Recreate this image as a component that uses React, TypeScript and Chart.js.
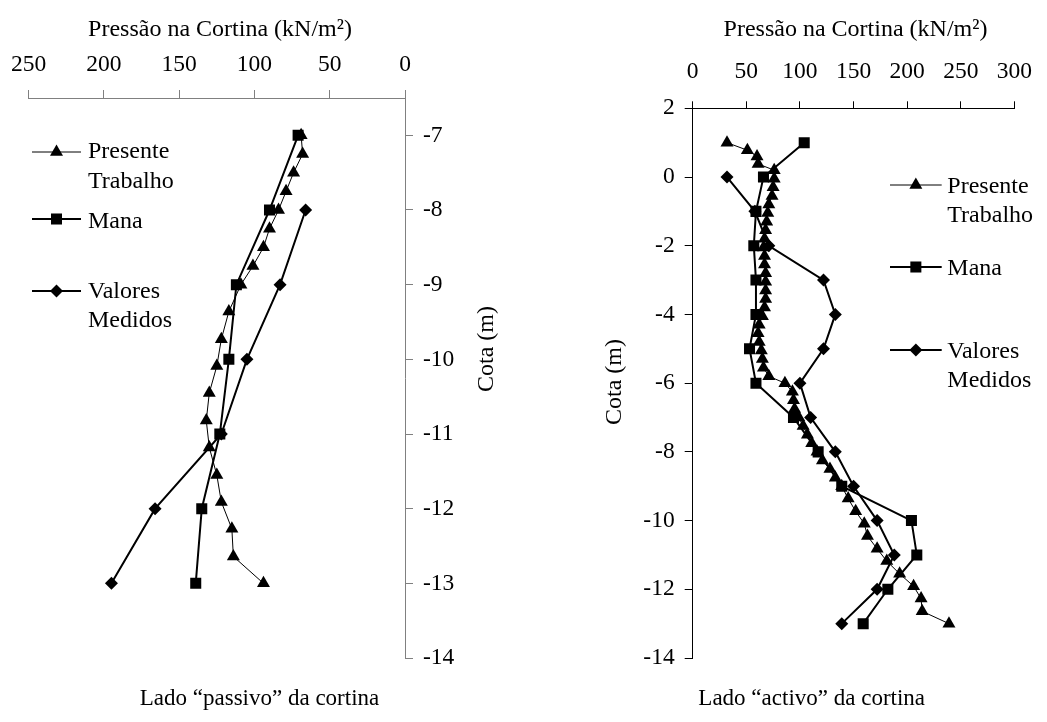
import React, { useEffect, useRef } from "react";
import { Chart, registerables } from "chart.js";

Chart.register(...registerables);

const FONT = "'Liberation Serif', 'Times New Roman', serif";

// ---------- Left chart: Lado "passivo" da cortina ----------
const passXTicks = [250, 200, 150, 100, 50, 0];
const passYTicks = [-14, -13, -12, -11, -10, -9, -8, -7];
const passCotaPT = [-7, -7.25, -7.5, -7.75, -8, -8.25, -8.5, -8.75, -9, -9.36, -9.73, -10.09, -10.45, -10.82, -11.18, -11.55, -11.91, -12.27, -12.64, -13];
const passPT = [69, 68, 74, 79, 84, 90, 94, 101, 109, 117, 122, 125, 130, 132, 130, 125, 122, 115, 114, 94];
const passCotaMana = [-7, -8, -9, -10, -11, -12, -13];
const passMana = [71, 90, 112, 117, 123, 135, 139];
const passCotaMed = [-8, -9, -10, -11, -12, -13];
const passMed = [66, 83, 105, 122, 166, 195];

// ---------- Right chart: Lado "activo" da cortina ----------
const actXTicks = [0, 50, 100, 150, 200, 250, 300];
const actYTicks = [-14, -12, -10, -8, -6, -4, -2, 0, 2];
const actCotaPT = [1, 0.78, 0.6, 0.38, 0.2, -0.05, -0.3, -0.55, -0.8, -1.05, -1.3, -1.55, -1.8, -2.05, -2.3, -2.55, -2.8, -3.05, -3.3, -3.55, -3.8, -4.05, -4.3, -4.55, -4.8, -5.05, -5.3, -5.55, -5.8, -6, -6.25, -6.5, -6.75, -7, -7.25, -7.5, -7.75, -8, -8.25, -8.5, -8.75, -9, -9.36, -9.73, -10.09, -10.45, -10.82, -11.18, -11.55, -11.91, -12.27, -12.64, -13];
const actPT = [32, 51, 60, 61, 76, 76, 75, 74, 71, 70, 69, 68, 67, 66, 67, 67, 68, 68, 68, 68, 67, 65, 62, 61, 62, 64, 65, 66, 71, 86, 93, 94, 95, 99, 103, 107, 111, 116, 121, 128, 133, 139, 145, 152, 160, 163, 172, 181, 193, 206, 213, 214, 239];
const actCotaMana = [1, 0, -1, -2, -3, -4, -5, -6, -7, -8, -9, -10, -11, -12, -13];
const actMana = [104, 66, 59, 57, 59, 59, 53, 59, 94, 117, 139, 204, 209, 182, 159];
const actCotaMed = [0, -1, -2, -3, -4, -5, -6, -7, -8, -9, -10, -11, -12, -13];
const actMed = [32, 58, 71, 122, 133, 122, 100, 110, 133, 150, 172, 188, 172, 139];

// ---------- Texts ----------
const xTitle = "Pressão na Cortina (kN/m²)";
const yTitle = "Cota (m)";
const passCaption = "Lado “passivo” da cortina";
const actCaption = "Lado “activo” da cortina";
const seriesNames = [["Presente", "Trabalho"], ["Mana"], ["Valores", "Medidos"]];
const markerStyles = ["triangle", "rect", "rectRot"];
const markerRadii = [7.5, 7.8, 6.5];
const lineWidths = [1, 2, 2];

function pts(xs: number[], ys: number[]) {
  return xs.map((v, i) => ({ x: v, y: ys[i] }));
}

function drawMarker(ctx: CanvasRenderingContext2D, style: string, x: number, y: number, r: number) {
  ctx.beginPath();
  if (style === "triangle") {
    ctx.moveTo(x, y - r);
    ctx.lineTo(x + Math.sin((2 * Math.PI) / 3) * r, y + 0.5 * r);
    ctx.lineTo(x - Math.sin((2 * Math.PI) / 3) * r, y + 0.5 * r);
  } else if (style === "rect") {
    const s = Math.SQRT1_2 * r;
    ctx.rect(x - s, y - s, 2 * s, 2 * s);
  } else {
    ctx.moveTo(x - r, y);
    ctx.lineTo(x, y - r);
    ctx.lineTo(x + r, y);
    ctx.lineTo(x, y + r);
  }
  ctx.closePath();
  ctx.fill();
}

type Txt = { text: string; x: number; y: number; size: number; rot?: boolean; align?: CanvasTextAlign };
type Leg = { x0: number; x1: number; ly: number; tx: number; bases: number[] };

function overlayPlugin(texts: Txt[], legend: Leg[]) {
  return {
    id: "overlay",
    afterDraw(chart: any) {
      const ctx: CanvasRenderingContext2D = chart.ctx;
      ctx.save();
      ctx.fillStyle = "#000";
      ctx.strokeStyle = "#000";
      for (const t of texts) {
        ctx.font = `${t.size}px ${FONT}`;
        ctx.textAlign = t.align || "center";
        if (t.rot) {
          ctx.save();
          ctx.translate(t.x, t.y);
          ctx.rotate(-Math.PI / 2);
          ctx.textBaseline = "middle";
          ctx.fillText(t.text, 0, 0);
          ctx.restore();
        } else {
          ctx.textBaseline = "alphabetic";
          ctx.fillText(t.text, t.x, t.y);
        }
      }
      legend.forEach((l, i) => {
        ctx.lineWidth = lineWidths[i];
        ctx.beginPath();
        ctx.moveTo(l.x0, l.ly);
        ctx.lineTo(l.x1, l.ly);
        ctx.stroke();
        drawMarker(ctx, markerStyles[i], (l.x0 + l.x1) / 2, l.ly, markerRadii[i]);
        ctx.font = `24px ${FONT}`;
        ctx.textAlign = "left";
        ctx.textBaseline = "alphabetic";
        seriesNames[i].forEach((s, j) => ctx.fillText(s, l.tx, l.bases[j]));
      });
      ctx.restore();
    },
  };
}

function datasets(cPT: number[], vPT: number[], cM: number[], vM: number[], cV: number[], vV: number[]) {
  const sets = [
    [vPT, cPT],
    [vM, cM],
    [vV, cV],
  ];
  return sets.map(([v, c], i) => ({
    label: seriesNames[i].join(" "),
    data: pts(v, c),
    showLine: true,
    borderColor: "#000",
    backgroundColor: "#000",
    borderWidth: lineWidths[i],
    pointStyle: markerStyles[i],
    pointRadius: markerRadii[i],
    pointBorderWidth: 0,
    pointBackgroundColor: "#000",
    tension: 0,
  }));
}

function axisCommon(color: string, tl: number, pad: number) {
  return {
    type: "linear",
    grid: { drawOnChartArea: false, drawTicks: true, tickLength: tl, color },
    border: { display: true, color, width: 1 },
    ticks: {
      font: { family: FONT, size: 23.5 },
      color: "#000",
      padding: pad,
      autoSkip: false,
      maxRotation: 0,
      callback: (v: any) => String(v),
    },
  };
}

export default function App() {
  const leftRef = useRef<HTMLCanvasElement | null>(null);
  const rightRef = useRef<HTMLCanvasElement | null>(null);

  useEffect(() => {
    const gray = "#808080";
    const left = new Chart(leftRef.current as HTMLCanvasElement, {
      type: "scatter",
      data: { datasets: datasets(passCotaPT, passPT, passCotaMana, passMana, passCotaMed, passMed) as any },
      options: {
        animation: false,
        responsive: false,
        events: [],
        layout: { padding: { left: 28, top: 0, right: 520 - 405 - 60, bottom: 64 } },
        plugins: { legend: { display: false }, tooltip: { enabled: false } },
        scales: {
          x: {
            ...axisCommon(gray, 8, 11),
            position: "top",
            min: 0,
            max: 250,
            reverse: true,
            afterBuildTicks: (s: any) => { s.ticks = passXTicks.map((v) => ({ value: v })); },
            afterFit: (s: any) => { s.height = 98; },
          },
          y: {
            ...axisCommon(gray, 8, 10),
            position: "right",
            min: -14,
            max: -6.5,
            afterBuildTicks: (s: any) => { s.ticks = passYTicks.map((v) => ({ value: v })); },
            afterFit: (s: any) => { s.width = 60; },
          },
        } as any,
      },
      plugins: [
        overlayPlugin(
          [
            { text: xTitle, x: 220, y: 36, size: 24 },
            { text: yTitle, x: 487, y: 349, size: 24, rot: true },
            { text: passCaption, x: 259.5, y: 705, size: 23 },
          ],
          [
            { x0: 32, x1: 81, ly: 152, tx: 88, bases: [158, 188] },
            { x0: 32, x1: 81, ly: 219, tx: 88, bases: [228] },
            { x0: 32, x1: 81, ly: 291, tx: 88, bases: [298, 327] },
          ]
        ),
      ],
    });

    const right = new Chart(rightRef.current as HTMLCanvasElement, {
      type: "scatter",
      data: { datasets: datasets(actCotaPT, actPT, actCotaMana, actMana, actCotaMed, actMed) as any },
      options: {
        animation: false,
        responsive: false,
        events: [],
        layout: { padding: { left: 172.7 - 60, top: 0, right: 21.3, bottom: 64 } },
        plugins: { legend: { display: false }, tooltip: { enabled: false } },
        scales: {
          x: {
            ...axisCommon("#000", 7, 15),
            position: "top",
            min: 0,
            max: 300,
            afterBuildTicks: (s: any) => { s.ticks = actXTicks.map((v) => ({ value: v })); },
            afterFit: (s: any) => { s.height = 108.3; },
          },
          y: {
            ...axisCommon("#000", 8, 10),
            position: "left",
            min: -14,
            max: 2,
            afterBuildTicks: (s: any) => { s.ticks = actYTicks.map((v) => ({ value: v })); },
            afterFit: (s: any) => { s.width = 60; },
          },
        } as any,
      },
      plugins: [
        overlayPlugin(
          [
            { text: xTitle, x: 335.5, y: 36, size: 24 },
            { text: yTitle, x: 95, y: 382, size: 24, rot: true },
            { text: actCaption, x: 291.7, y: 705, size: 23 },
          ],
          [
            { x0: 370, x1: 421.7, ly: 185, tx: 427.3, bases: [193, 222] },
            { x0: 370, x1: 421.7, ly: 267, tx: 427.3, bases: [275] },
            { x0: 370, x1: 421.7, ly: 350, tx: 427.3, bases: [358, 387] },
          ]
        ),
      ],
    });

    return () => {
      left.destroy();
      right.destroy();
    };
  }, []);

  return (
    <div style={{ position: "absolute", left: 0, top: 0, width: 1047, height: 722, background: "#fff" }}>
      <canvas ref={leftRef} width={520} height={722} style={{ position: "absolute", left: 0, top: 0, width: 520, height: 722 }} />
      <canvas ref={rightRef} width={527} height={722} style={{ position: "absolute", left: 520, top: 0, width: 527, height: 722 }} />
    </div>
  );
}
